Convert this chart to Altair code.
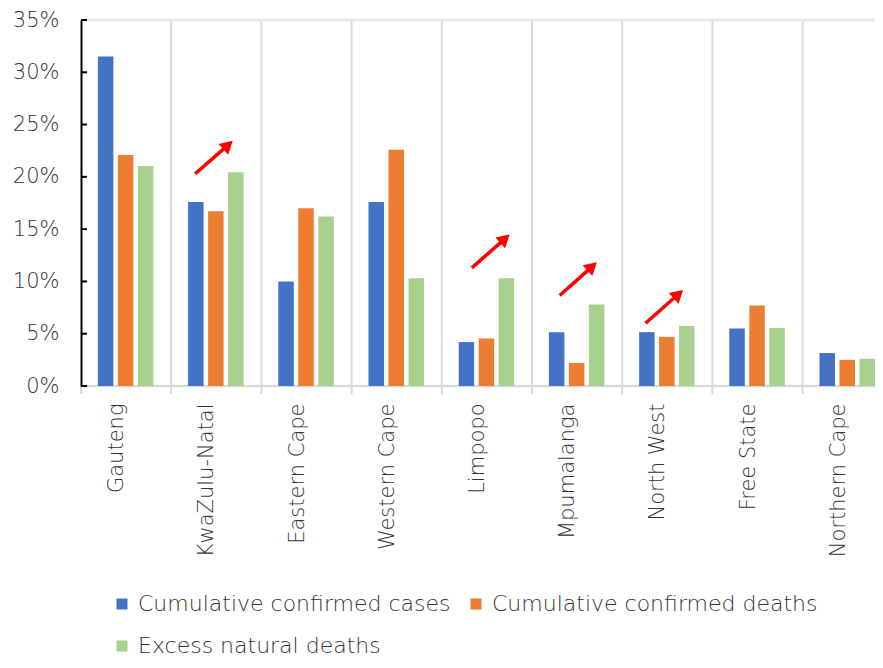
import altair as alt
import pandas as pd

provinces = ["Gauteng", "KwaZulu-Natal", "Eastern Cape", "Western Cape", "Limpopo",
             "Mpumalanga", "North West", "Free State", "Northern Cape"]
series = ["Cumulative confirmed cases", "Cumulative confirmed deaths", "Excess natural deaths"]
cases = [31.5, 17.6, 10.0, 17.6, 4.2, 5.15, 5.15, 5.5, 3.15]
deaths = [22.1, 16.7, 17.0, 22.6, 4.55, 2.2, 4.7, 7.7, 2.5]
excess = [21.05, 20.45, 16.2, 10.3, 10.3, 7.8, 5.75, 5.55, 2.6]
colors = ["#4472C4", "#ED7D31", "#A9D18E"]
y_ticks = [0, 5, 10, 15, 20, 25, 30, 35]

# red arrows (x in category units from the left edge, y in percent)
arrow_x0 = [1.266, 4.333, 5.307, 6.259]
arrow_y0 = [20.3, 11.3, 8.66, 6.0]
arrow_x1 = [1.685, 4.755, 5.721, 6.677]
arrow_y1 = [23.45, 14.5, 11.84, 9.2]

rows = []
for s, vals in zip(series, [cases, deaths, excess]):
    for p, v in zip(provinces, vals):
        rows.append({"province": p, "series": s, "value": v})
df = pd.DataFrame(rows)

arr = pd.DataFrame({"x0": arrow_x0, "y0": arrow_y0, "x1": arrow_x1, "y1": arrow_y1})
arr["lx"] = arr.x0 + 0.8 * (arr.x1 - arr.x0)
arr["ly"] = arr.y0 + 0.8 * (arr.y1 - arr.y0)
arr["hx"] = arr.x0 + 0.87 * (arr.x1 - arr.x0)
arr["hy"] = arr.y0 + 0.87 * (arr.y1 - arr.y0)

ticks_df = pd.DataFrame({"t": y_ticks})
prov_df = pd.DataFrame({"province": provinces})
grid_df = pd.DataFrame({"province": provinces[1:]})

FONT = "DejaVu Sans"
W = 200
TXT = "#333333"
GRID = "#d9d9d9"
# whole chart must fit 867 x 652 (window minus the 8px page margin on each side)
PAD_L, PAD_T = 73, 12
PW, PH = 794, 366
PAD_B = 652 - PAD_T - PH

# layout: category step is wider than PW/9 so that the last band runs past the edge
STEP = 90.2
N = len(provinces)
P_IN = N - PW / STEP                 # inner padding that yields that step
BW = STEP * (1 - P_IN)               # bandwidth of the x scale
BAR_STEP, BAR_PAD = 20.0, 0.225
off_outer = max(0.0, (BW / BAR_STEP - (3 - BAR_PAD)) / 2)
off_align = min(1.0, 17.0 / max(1e-6, BW - BAR_STEP * (3 - BAR_PAD)))
label_pos = 44.75 / BW

yscale = alt.Scale(domain=[0, 35], nice=False, zero=True)
xscale = alt.Scale(domain=provinces, paddingInner=P_IN, paddingOuter=0, align=0)
xaxis = alt.Axis(title=None, grid=False, domain=False, ticks=False, bandPosition=label_pos,
                 labelAngle=-90, labelAlign="right", labelBaseline="middle",
                 labelFontSize=21, labelFont=FONT, labelFontWeight=W,
                 labelColor=TXT, labelPadding=17, labelLimit=400)

bars = alt.Chart(df).mark_bar(clip=True).encode(
    x=alt.X("province:N", sort=provinces, scale=xscale, axis=xaxis),
    xOffset=alt.XOffset("series:N", sort=series,
                        scale=alt.Scale(paddingInner=BAR_PAD, paddingOuter=off_outer,
                                        align=off_align)),
    y=alt.Y("value:Q", scale=yscale,
            axis=alt.Axis(title=None, values=y_ticks, labelExpr="datum.value + '%'",
                          grid=False, ticks=False, domainColor="#000000", domainWidth=2,
                          labelFontSize=21, labelFont=FONT, labelFontWeight=W,
                          labelColor=TXT, labelPadding=22, zindex=1)),
    color=alt.Color("series:N", sort=series,
                    scale=alt.Scale(domain=series, range=colors),
                    legend=alt.Legend(orient="none", legendX=30, legendY=573,
                                      direction="horizontal", columns=2, title=None,
                                      symbolType="square", symbolSize=121,
                                      symbolStrokeWidth=0, labelFontSize=22,
                                      labelFont=FONT, labelFontWeight=W,
                                      labelColor=TXT, labelOffset=5,
                                      columnPadding=14, rowPadding=20, labelLimit=500)),
)

vgrid = alt.Chart(grid_df).mark_rule(color=GRID, strokeWidth=2).encode(
    x=alt.X("province:N", sort=provinces, scale=xscale, axis=xaxis, bandPosition=0),
    y=alt.value(0), y2=alt.value("height"))

xticks = alt.Chart(prov_df).mark_rule(color=GRID, strokeWidth=2).encode(
    x=alt.X("province:N", sort=provinces, scale=xscale, axis=xaxis, bandPosition=0),
    y=alt.value(PH), y2=alt.value(PH + 8))

top_line = alt.Chart(pd.DataFrame({"t": [35]})).mark_rule(
    color="#e8e8e8", strokeWidth=3).encode(
    y=alt.Y("t:Q", scale=yscale), x=alt.value(0), x2=alt.value("width"))

base_line = alt.Chart(pd.DataFrame({"t": [0]})).mark_rule(
    color=GRID, strokeWidth=2.5).encode(
    y=alt.Y("t:Q", scale=yscale), x=alt.value(0), x2=alt.value("width"))

inner_ticks = alt.Chart(ticks_df).mark_rule(color="#000000", strokeWidth=2).encode(
    y=alt.Y("t:Q", scale=yscale), x=alt.value(0), x2=alt.value(6))

ax = alt.Scale(domain=[0, PW / STEP], nice=False, zero=False)
arrow_lines = alt.Chart(arr).mark_rule(color="#FF0000", strokeWidth=3.5).encode(
    x=alt.X("x0:Q", scale=ax, axis=None), x2="lx:Q",
    y=alt.Y("y0:Q", scale=yscale), y2="ly:Q")
arrow_heads = alt.Chart(arr).mark_point(
    shape="triangle-up", filled=True, size=210, angle=48, color="#FF0000", opacity=1).encode(
    x=alt.X("hx:Q", scale=ax, axis=None),
    y=alt.Y("hy:Q", scale=yscale))

main = alt.layer(vgrid, top_line, base_line, xticks, bars, inner_ticks)
arrows = alt.layer(arrow_lines, arrow_heads)

chart = alt.layer(main, arrows).resolve_scale(x="independent").properties(
    width=PW, height=PH,
    autosize=alt.AutoSizeParams(type="none"),
    padding={"left": PAD_L, "top": PAD_T, "right": 0, "bottom": PAD_B},
).configure_view(stroke=None).configure(font=FONT)

chart.save("out.html", embed_options={"renderer": "svg", "actions": False})
